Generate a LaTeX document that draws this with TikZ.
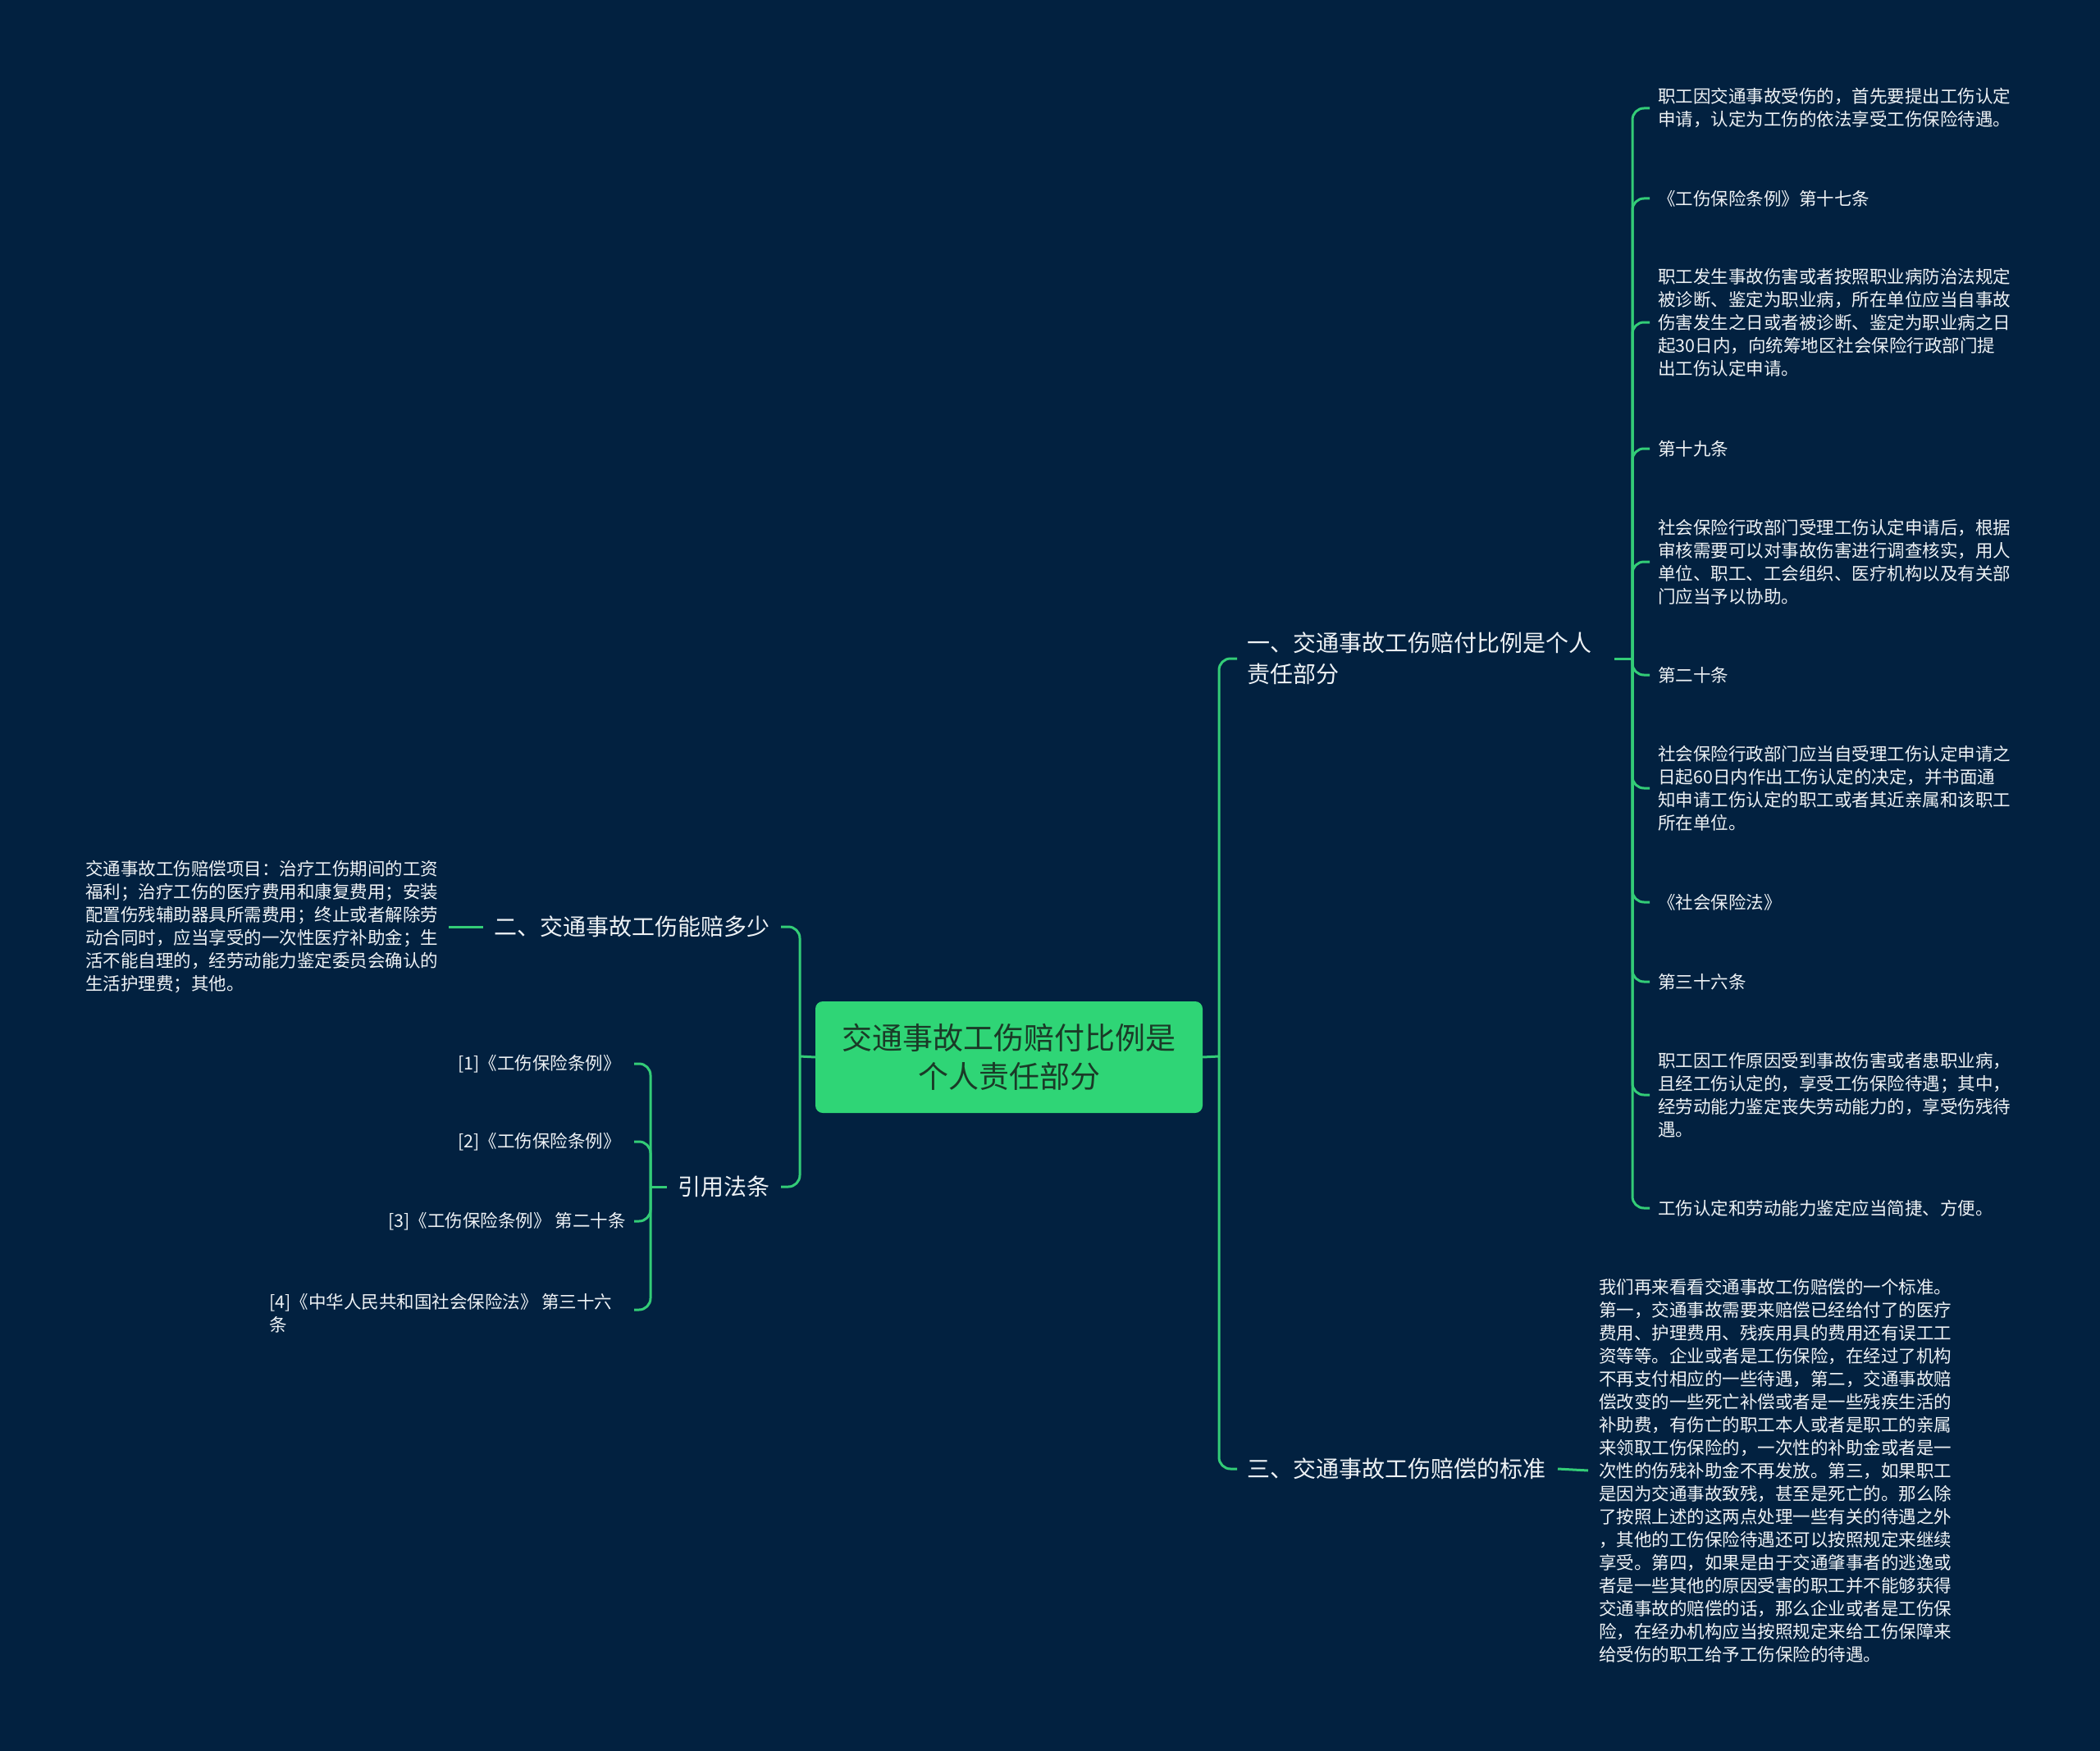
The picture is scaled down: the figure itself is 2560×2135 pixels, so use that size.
\documentclass[tikz,border=0pt]{standalone}
\usepackage{fontspec}
\setmainfont{Noto Sans CJK SC}
\definecolor{bg}{HTML}{022140}
\definecolor{ln}{HTML}{33CC77}
\definecolor{rootfill}{HTML}{2FD576}
\definecolor{roottext}{HTML}{1A3A27}
\definecolor{txt}{HTML}{EEF2F5}
\begin{document}
\begin{tikzpicture}[x=1pt,y=-1pt,
 conn/.style={draw=ln,line width=3pt,rounded corners=14pt},
 stub/.style={draw=ln,line width=3pt},
 leaf/.style={text=txt,inner sep=0pt,align=left,font=\fontsize{21.5}{28}\selectfont},
 leafr/.style={text=txt,inner sep=0pt,align=right,font=\fontsize{21.5}{28}\selectfont},
 branch/.style={text=txt,inner sep=0pt,align=left,font=\fontsize{28}{37.5}\selectfont},
 rootbox/.style={fill=rootfill,text=roottext,rounded corners=9pt,minimum width=472pt,minimum height=136pt,align=center,inner sep=0pt,font=\fontsize{37}{47}\selectfont},
]
\fill[bg] (0,0) rectangle (2560,2135);
\useasboundingbox (0,0) rectangle (2560,2135);

% root
\node[rootbox] (root) at (1230,1289) {交通事故工伤赔付比例是\\个人责任部分};

% main branches
\node[branch,anchor=west] (n1) at (1520,803) {一、交通事故工伤赔付比例是个人\\责任部分};
\node[branch,anchor=west] (n3) at (1520,1791) {三、交通事故工伤赔偿的标准};
\node[branch,anchor=east] (n2) at (939,1130) {二、交通事故工伤能赔多少};
\node[branch,anchor=east] (nr) at (939,1447) {引用法条};

% junctions
\coordinate (rj) at (1486,1288);
\coordinate (lj) at (975,1288);
\coordinate (n1in) at (1508,803);
\coordinate (n3in) at (1508,1791);
\coordinate (n2in) at (952,1130);
\coordinate (nrin) at (952,1447);

\draw[stub] (root.east) -- (rj);
\draw[stub] (root.west) -- (lj);
\draw[conn] (rj) |- (n1in);
\draw[conn] (rj) |- (n3in);
\draw[conn] (lj) |- (n2in);
\draw[conn] (lj) |- (nrin);

% right leaves of n1
\coordinate (n1out) at (1968,803);
\coordinate (r1j) at (1990,803);
\draw[stub] (n1out) -- (r1j);

\node[leaf,anchor=west] (a1) at (2021,132) {职工因交通事故受伤的，首先要提出工伤认定\\申请，认定为工伤的依法享受工伤保险待遇。};
\node[leaf,anchor=west] (a2) at (2021,242) {《工伤保险条例》第十七条};
\node[leaf,anchor=west] (a3) at (2021,393) {职工发生事故伤害或者按照职业病防治法规定\\被诊断、鉴定为职业病，所在单位应当自事故\\伤害发生之日或者被诊断、鉴定为职业病之日\\起30日内，向统筹地区社会保险行政部门提\\出工伤认定申请。};
\node[leaf,anchor=west] (a4) at (2021,547) {第十九条};
\node[leaf,anchor=west] (a5) at (2021,685) {社会保险行政部门受理工伤认定申请后，根据\\审核需要可以对事故伤害进行调查核实，用人\\单位、职工、工会组织、医疗机构以及有关部\\门应当予以协助。};
\node[leaf,anchor=west] (a6) at (2021,823) {第二十条};
\node[leaf,anchor=west] (a7) at (2021,961) {社会保险行政部门应当自受理工伤认定申请之\\日起60日内作出工伤认定的决定，并书面通\\知申请工伤认定的职工或者其近亲属和该职工\\所在单位。};
\node[leaf,anchor=west] (a8) at (2021,1100) {《社会保险法》};
\node[leaf,anchor=west] (a9) at (2021,1197) {第三十六条};
\node[leaf,anchor=west] (a10) at (2021,1335) {职工因工作原因受到事故伤害或者患职业病，\\且经工伤认定的，享受工伤保险待遇；其中，\\经劳动能力鉴定丧失劳动能力的，享受伤残待\\遇。};
\node[leaf,anchor=west] (a11) at (2021,1473) {工伤认定和劳动能力鉴定应当简捷、方便。};

\foreach \n/\y in {a1/132,a2/242,a3/393,a4/547,a5/685,a6/823,a7/961,a8/1100,a9/1197,a10/1335,a11/1473}{
  \draw[conn] (r1j) |- ([xshift=-10pt]\n.west);
}

% n3 leaf
\coordinate (n3out) at (1899,1791);
\node[leaf,anchor=west] (b1) at (1949,1793) {我们再来看看交通事故工伤赔偿的一个标准。\\第一，交通事故需要来赔偿已经给付了的医疗\\费用、护理费用、残疾用具的费用还有误工工\\资等等。企业或者是工伤保险，在经过了机构\\不再支付相应的一些待遇，第二，交通事故赔\\偿改变的一些死亡补偿或者是一些残疾生活的\\补助费，有伤亡的职工本人或者是职工的亲属\\来领取工伤保险的，一次性的补助金或者是一\\次性的伤残补助金不再发放。第三，如果职工\\是因为交通事故致残，甚至是死亡的。那么除\\了按照上述的这两点处理一些有关的待遇之外\\，其他的工伤保险待遇还可以按照规定来继续\\享受。第四，如果是由于交通肇事者的逃逸或\\者是一些其他的原因受害的职工并不能够获得\\交通事故的赔偿的话，那么企业或者是工伤保\\险，在经办机构应当按照规定来给工伤保障来\\给受伤的职工给予工伤保险的待遇。};
\draw[stub] (n3out) -- ([xshift=-13pt]b1.west);

% n2 leaf
\coordinate (n2out) at (589,1130);
\node[leaf,anchor=west] (c1) at (104,1130) {交通事故工伤赔偿项目：治疗工伤期间的工资\\福利；治疗工伤的医疗费用和康复费用；安装\\配置伤残辅助器具所需费用；终止或者解除劳\\动合同时，应当享受的一次性医疗补助金；生\\活不能自理的，经劳动能力鉴定委员会确认的\\生活护理费；其他。};
\draw[stub] (n2out) -- ([xshift=13pt]c1.east);

% references
\coordinate (rfo) at (813,1447);
\coordinate (rfj) at (793,1447);
\draw[stub] (rfo) -- (rfj);
\node[leafr,anchor=east] (d1) at (757,1297) {[1]《工伤保险条例》};
\node[leafr,anchor=east] (d2) at (757,1392) {[2]《工伤保险条例》};
\node[leafr,anchor=east] (d3) at (763,1489) {[3]《工伤保险条例》 第二十条};
\node[leaf,anchor=west] (d4) at (328,1601) {[4]《中华人民共和国社会保险法》 第三十六\\条};
\draw[conn] (rfj) |- ([xshift=16pt]d1.east);
\draw[conn] (rfj) |- ([xshift=16pt]d2.east);
\draw[conn] (rfj) |- ([xshift=10pt]d3.east);
\draw[conn] (rfj) |- (773,1597);
\end{tikzpicture}
\end{document}
